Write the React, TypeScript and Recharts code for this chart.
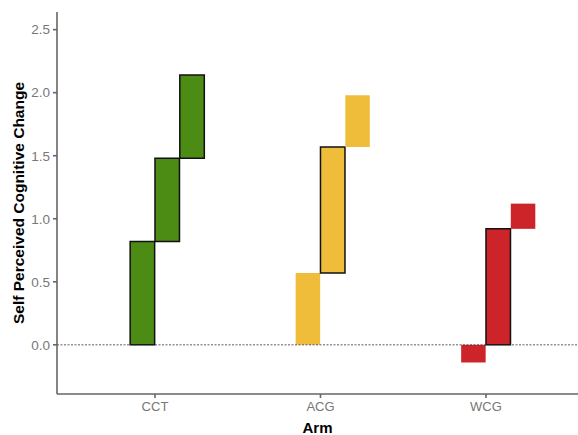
import React from 'react';
import { ComposedChart, Bar, Cell, XAxis, YAxis, ReferenceLine } from 'recharts';

const arms = ['CCT', 'ACG', 'WCG'];
const stepOffsets = [-0.075, 0.075, 0.225];
const cctLow = [0, 0.82, 1.48];
const cctHigh = [0.82, 1.48, 2.14];
const acgLow = [0, 0.57, 1.57];
const acgHigh = [0.57, 1.57, 1.98];
const wcgLow = [0, 0, 0.92];
const wcgHigh = [-0.14, 0.92, 1.12];
const cctOutline = [true, true, true];
const acgOutline = [false, true, false];
const wcgOutline = [false, true, false];
const armColors = ['#4d8c14', '#f0bd3b', '#cc2428'];
const yTicks = [0, 0.5, 1, 1.5, 2, 2.5];

const lows = [cctLow, acgLow, wcgLow];
const highs = [cctHigh, acgHigh, wcgHigh];
const outlines = [cctOutline, acgOutline, wcgOutline];

const data: any[] = [];
arms.forEach((arm, i) => {
  stepOffsets.forEach((off, j) => {
    data.push({
      x: i + 1 + off,
      range: [lows[i][j], highs[i][j]],
      color: armColors[i],
      outline: outlines[i][j],
    });
  });
});

const FONT = '"Liberation Sans", Arial, sans-serif';

export default function App() {
  return (
    <div style={{ position: 'absolute', left: 0, top: 0, background: '#fff' }}>
      <ComposedChart
        width={578}
        height={435}
        data={data}
        margin={{ top: 12, right: 0, left: 0, bottom: 0 }}
      >
        <XAxis
          dataKey="x"
          type="number"
          domain={[0.408, 3.556]}
          ticks={[1, 2, 3]}
          tickFormatter={(v: number) => arms[Math.round(v) - 1]}
          height={41}
          tickSize={4}
          tickMargin={4}
          stroke="#666"
          strokeWidth={1.6}
          tick={{ fill: '#777', fontSize: 13, fontFamily: FONT }}
          allowDataOverflow
          label={(props: any) => {
            const vb = props.viewBox;
            return (
              <text
                x={vb.x + vb.width / 2}
                y={427}
                textAnchor="middle"
                dominantBaseline="central"
                fontFamily={FONT}
                fontWeight="bold"
                fontSize={15}
                fill="#000"
              >
                Arm
              </text>
            );
          }}
        />
        <YAxis
          type="number"
          domain={[-0.39, 2.64]}
          ticks={yTicks}
          tickFormatter={(v: number) => v.toFixed(1)}
          width={57}
          tickSize={4}
          tickMargin={3}
          stroke="#666"
          strokeWidth={1.6}
          tick={{ fill: '#777', fontSize: 13.5, fontFamily: FONT }}
          allowDataOverflow
          label={(props: any) => {
            const vb = props.viewBox;
            const cx = 18;
            const cy = vb.y + vb.height / 2;
            return (
              <text
                x={cx}
                y={cy}
                transform={`rotate(-90 ${cx} ${cy})`}
                textAnchor="middle"
                dominantBaseline="central"
                fontFamily={FONT}
                fontWeight="bold"
                fontSize={15.5}
                fill="#000"
              >
                Self Perceived Cognitive Change
              </text>
            );
          }}
        />
        <Bar dataKey="range" barSize={24.5} isAnimationActive={false}>
          {data.map((d, idx) => (
            <Cell
              key={idx}
              fill={d.color}
              stroke={d.outline ? '#111' : 'none'}
              strokeWidth={d.outline ? 1.5 : 0}
            />
          ))}
        </Bar>
        <ReferenceLine y={0} stroke="#333" strokeWidth={0.8} strokeDasharray="2 1.5" />
      </ComposedChart>
    </div>
  );
}
